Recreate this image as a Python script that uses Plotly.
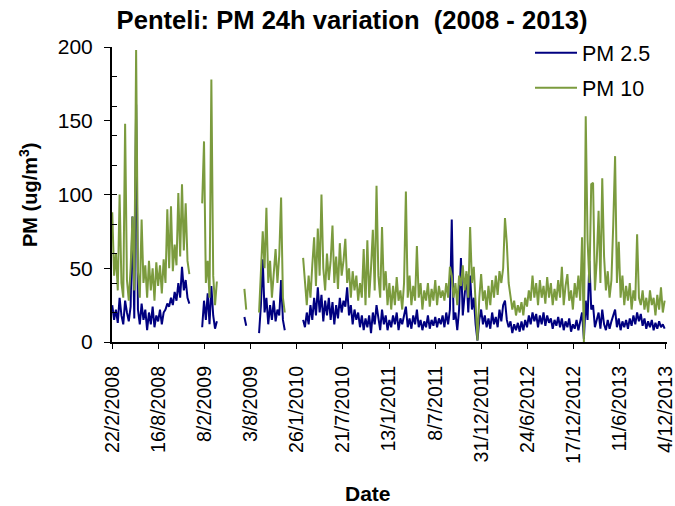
import pandas as pd
import plotly.graph_objects as go

# ---------------- data (weekly readings) ----------------
START = pd.Timestamp("2008-02-22")
STEP_DAYS = 7
SEG_START_WEEK = [0, 49, 72, 80, 104]

PM10_SEG1 = [88, 45, 60, 35, 100, 40, 30, 148, 42, 28,
             50, 85, 35, 198, 48, 30, 83, 40, 52, 30,
             55, 35, 50, 28, 54, 38, 52, 33, 56, 40,
             90, 50, 92, 48, 66, 52, 101, 58, 107, 62,
             94, 55, 46]
PM25_SEG1 = [25, 15, 22, 13, 30, 18, 12, 28, 20, 14,
             24, 85, 16, 161, 22, 12, 26, 15, 22, 8,
             20, 12, 24, 10, 18, 14, 22, 12, 20, 22,
             26, 24, 30, 25, 34, 28, 40, 30, 51, 35,
             42, 30, 26]

PM10_SEG2 = [94, 136, 40, 55, 30, 178, 45, 25, 41]
PM25_SEG2 = [10, 28, 15, 33, 12, 38, 18, 9, 14]

PM10_SEG3 = [36, 22]
PM25_SEG3 = [17, 11]

PM10_SEG4 = [20, 45, 75, 50, 91, 40, 55, 30, 48, 63, 40, 59, 98, 30, 20]
PM25_SEG4 = [6, 25, 56, 20, 30, 12, 25, 15, 28, 14, 22, 18, 42, 15, 8]

PM10_SEG5 = [57, 40, 25, 45, 30, 52, 71, 38, 77, 45,
             100, 50, 35, 60, 42, 55, 79, 40, 58, 36,
             67, 45, 55, 70, 40, 50, 30, 48, 35, 45,
             28, 40, 30, 63, 25, 69, 30, 50, 76, 35,
             106, 45, 30, 78, 35, 48, 25, 40, 22, 38,
             25, 44, 28, 35, 22, 40, 102, 30, 45, 25,
             38, 28, 65, 30, 40, 22, 35, 28, 40, 24,
             36, 28, 42, 25, 38, 30, 35, 28, 40, 30,
             51, 45, 30, 40, 25, 45, 38, 52, 35, 48,
             30, 78, 40, 51, 25, 1, 30, 46, 28, 35,
             22, 38, 25, 42, 30, 45, 32, 48, 40, 50,
             84, 67, 40, 30, 22, 28, 18, 25, 20, 27,
             18, 30, 24, 35, 28, 45, 30, 40, 25, 42,
             30, 38, 26, 44, 30, 40, 25, 36, 28, 42,
             30, 51, 25, 38, 46, 28, 35, 22, 40, 30,
             45, 28, 71, 0, 153, 69, 40, 107, 108, 35,
             55, 89, 40, 111, 58, 35, 48, 30, 42, 80,
             126, 40, 68, 30, 45, 25, 38, 28, 40, 22,
             35, 28, 73, 30, 25, 35, 22, 30, 20, 35,
             25, 30, 18, 32, 22, 37, 20, 28]
PM25_SEG5 = [15, 10, 20, 12, 25, 15, 30, 18, 37, 20,
             32, 14, 28, 18, 30, 15, 27, 12, 25, 16,
             30, 20, 28, 24, 37, 18, 25, 12, 22, 15,
             20, 10, 18, 8, 16, 10, 18, 6, 20, 12,
             25, 15, 8, 22, 12, 18, 8, 15, 10, 18,
             12, 20, 8, 16, 12, 18, 24, 10, 16, 9,
             18, 12, 22, 10, 15, 8, 14, 10, 18, 9,
             15, 11, 17, 10, 16, 12, 18, 10, 20, 12,
             22, 83, 15, 20, 8, 22, 57, 18, 30, 46,
             20, 45, 22, 30, 12, 1, 15, 22, 12, 18,
             10, 16, 9, 20, 12, 17, 10, 22, 14, 25,
             28, 15, 10, 14, 6, 12, 8, 13, 7, 14,
             8, 15, 10, 18, 12, 20, 14, 19, 10, 18,
             12, 20, 11, 18, 13, 16, 9, 15, 11, 17,
             10, 16, 8, 14, 10, 16, 7, 12, 9, 15,
             8, 13, 20, 2, 28, 15, 55, 22, 25, 10,
             16, 20, 9, 22, 12, 8, 15, 9, 14, 18,
             22, 10, 16, 8, 14, 10, 15, 9, 16, 11,
             18, 12, 20, 14, 19, 11, 16, 9, 14, 10,
             15, 8, 13, 9, 14, 10, 12, 9]

PM10_SEGS = [PM10_SEG1, PM10_SEG2, PM10_SEG3, PM10_SEG4, PM10_SEG5]
PM25_SEGS = [PM25_SEG1, PM25_SEG2, PM25_SEG3, PM25_SEG4, PM25_SEG5]

TICK_DATES = ["2008-02-22", "2008-08-16", "2009-02-08", "2009-08-03", "2010-01-26",
              "2010-07-21", "2011-01-13", "2011-07-08", "2011-12-31", "2012-06-24",
              "2012-12-17", "2013-06-11", "2013-12-04"]
TICK_TEXT = ["22/2/2008", "16/8/2008", "8/2/2009", "3/8/2009", "26/1/2010",
             "21/7/2010", "13/1/2011", "8/7/2011", "31/12/2011", "24/6/2012",
             "17/12/2012", "11/6/2013", "4/12/2013"]
Y_TICKS = [0, 50, 100, 150, 200]
Y_MINOR = [20, 40, 60, 80, 100, 120, 140, 160, 180]


def build(segs):
    xs, ys = [], []
    for k, (w0, seg) in enumerate(zip(SEG_START_WEEK, segs)):
        if k:
            xs.append(START + pd.Timedelta(days=STEP_DAYS * (w0 - 1)))
            ys.append(None)
        for i, v in enumerate(seg):
            xs.append(START + pd.Timedelta(days=STEP_DAYS * (w0 + i)))
            ys.append(v)
    return xs, ys


x25, y25 = build(PM25_SEGS)
x10, y10 = build(PM10_SEGS)

FONT = "Arial, Liberation Sans, sans-serif"
fig = go.Figure()
fig.add_trace(go.Scatter(x=x25, y=y25, mode="lines", name="PM 2.5", legendgroup="a",
                         line=dict(color="#000080", width=2), connectgaps=False))
fig.add_trace(go.Scatter(x=x10, y=y10, mode="lines", name="PM 10", legendgroup="b",
                         line=dict(color="#7B9B3E", width=2), connectgaps=False))

fig.update_layout(
    width=675, height=506,
    margin=dict(l=112, r=8, t=47, b=164, autoexpand=False),
    paper_bgcolor="white", plot_bgcolor="white",
    font=dict(family=FONT, color="black"),
    title=dict(text="<b>Penteli: PM 24h variation\u00a0\u00a0(2008 - 2013)</b>",
               font=dict(size=25.6, family=FONT, color="black"),
               x=352 / 675, xanchor="center", y=1 - 20 / 506, yanchor="middle",
               xref="container", yref="container"),
    legend=dict(x=(530 - 112) / 555, xanchor="left", y=1.05, yanchor="top",
                bgcolor="rgba(0,0,0,0)", font=dict(size=21.5, family=FONT),
                itemwidth=42, tracegroupgap=4, traceorder="grouped"),
    xaxis=dict(type="date", range=["2008-02-21", "2013-12-08"],
               tickmode="array", tickvals=TICK_DATES, ticktext=TICK_TEXT,
               tickangle=-90, tickfont=dict(size=19.6, family=FONT),
               ticklabeloverflow="allow", ticklabelstandoff=9,
               ticks="outside", ticklen=5, tickwidth=1, tickcolor="black",
               showline=True, linecolor="black", linewidth=2,
               showgrid=False, zeroline=False),
    yaxis=dict(range=[0, 200], tickmode="array", tickvals=Y_TICKS,
               tickfont=dict(size=21, family=FONT), ticklabelstandoff=7,
               ticks="outside", ticklen=6, tickwidth=1, tickcolor="black",
               minor=dict(tickmode="array", tickvals=Y_MINOR, ticks="inside",
                          ticklen=5, tickwidth=1, tickcolor="black", showgrid=False),
               showline=True, linecolor="black", linewidth=2,
               showgrid=False, zeroline=False),
    annotations=[
        dict(text="<b>PM (ug/m<sup>3</sup>)</b>", textangle=-90,
             xref="paper", yref="paper", x=-(112 - 28) / 555, y=(342 - 195) / 295,
             xanchor="center", yanchor="middle", showarrow=False,
             font=dict(size=20, family=FONT, color="black")),
        dict(text="<b>Date</b>", xref="paper", yref="paper",
             x=(368 - 112) / 555, y=-(493 - 342) / 295,
             xanchor="center", yanchor="middle", showarrow=False,
             font=dict(size=21, family=FONT, color="black")),
    ],
)

fig.write_html("out.html", config={"displayModeBar": False},
               post_script="document.body.style.margin='0';")
